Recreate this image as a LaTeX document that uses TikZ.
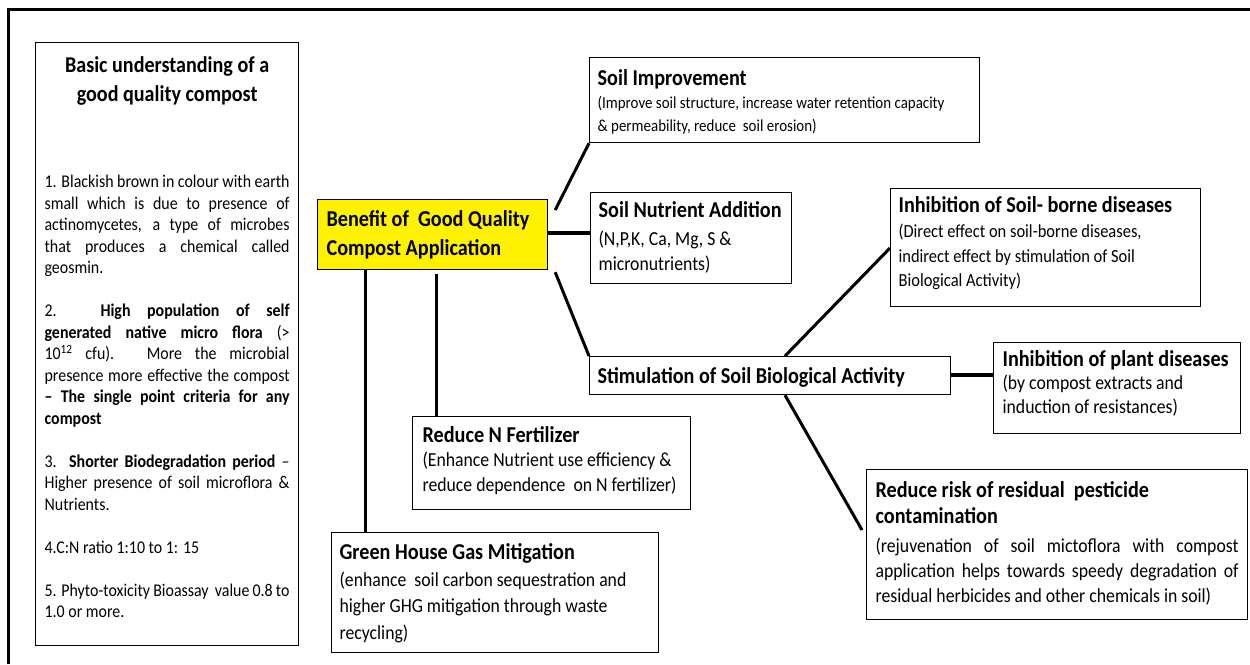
\documentclass[tikz,border=0pt]{standalone}
\usepackage{fontspec}
\setmainfont{Carlito}[FakeStretch=0.89]
\usetikzlibrary{calc}
\tikzset{
  bx/.style={draw=black, line width=1.2pt, inner sep=0pt, anchor=north west},
  conn/.style={line width=3pt, black},
  connb/.style={line width=4pt, black},
  frame/.style={line width=3pt, black},
}
\newcommand\fs[2]{\fontsize{#1pt}{#2pt}\selectfont}
\newcommand\jl[1]{\makebox[\linewidth][s]{#1}\par}
% [opts]{name}{x}{y}{w}{h}{padx}{pady}{content}
\newcommand\tbox[9][]{%
  \node[bx,#1] (#2) at (#3,#4) {\parbox[c][#6pt][t]{#5pt}{\vspace*{#8pt}\hspace*{#7pt}\parbox[t]{\dimexpr #5pt-#7pt-#7pt\relax}{\raggedright\rule{0pt}{20pt}#9}}};}
\begin{document}
\begin{tikzpicture}[x=1pt,y=-1pt]
\useasboundingbox (0,0) rectangle (1250,664);
\coordinate (fbl) at (8,664);
\coordinate (ftl) at (8,9);
\coordinate (ftr) at (1250,9);
\draw[frame] (fbl) -- (ftl) -- (ftr);

% left box
\tbox{lbox}{35}{42}{263}{603}{9}{10}{%
\centering\fs{22.6}{28.5}\bfseries Basic understanding of a\\ good quality compost\par
\raggedright\mdseries\fs{17.9}{21.5}\vspace{65pt}%
\jl{1. Blackish brown in colour with earth}
\jl{small which is due to presence of}
\jl{actinomycetes, a type of microbes}
\jl{that produces a chemical called}
geosmin.\par
\vspace{21.5pt}%
\jl{2. \textbf{High population of self}}
\jl{\textbf{generated native micro flora} (>}
\jl{10\textsuperscript{12} cfu). More the microbial}
\jl{presence more effective the compost}
\jl{\textbf{– The single point criteria for any}}
\textbf{compost}\par
\vspace{21.5pt}%
\jl{3. \textbf{Shorter Biodegradation period} –}
\jl{Higher presence of soil microflora \&}
Nutrients.\par
\vspace{21.5pt}%
4.C:N ratio 1:10 to 1: 15\par
\vspace{21.5pt}%
\jl{5. Phyto-toxicity Bioassay\ \ value 0.8 to}
1.0 or more.\par}

% central node
\tbox[fill=yellow]{yellow}{317}{199}{230}{70}{9}{7}{%
\fs{22.7}{28.5}\bfseries Benefit of\ \ Good Quality\\ Compost Application}

\tbox{soilimp}{589}{57}{390}{85}{8}{8}{%
\fs{22.7}{24}\bfseries Soil Improvement\par
\mdseries\fs{16.8}{23}(Improve soil structure, increase water retention capacity\\ \& permeability, reduce\ \ soil erosion)}

\tbox{soilnut}{590}{192}{201}{91}{8}{5}{%
\fs{22.7}{24}\bfseries Soil Nutrient Addition\par\vspace{3pt}
\mdseries\fs{19.9}{25}(N,P,K, Ca, Mg, S \&\\ micronutrients)}

\tbox{inhsoil}{890}{188}{310}{118}{8}{4}{%
\fs{22.7}{24}\bfseries Inhibition of Soil- borne diseases\par
\mdseries\fs{18.5}{24.7}(Direct effect on soil-borne diseases,\\ indirect effect by stimulation of Soil\\ Biological Activity)}

\tbox{stim}{589}{356}{361}{38}{8}{7}{%
\fs{22.7}{24}\bfseries Stimulation of Soil Biological Activity}

\tbox{plant}{993}{342}{247}{91}{9}{4}{%
\fs{22.7}{24}\bfseries Inhibition of plant diseases\par\vspace{-1pt}
\mdseries\fs{19.9}{24}(by compost extracts and\\ induction of resistances)}

\tbox{reduceN}{412}{416}{278}{93}{10}{6}{%
\fs{22.7}{24}\bfseries Reduce N Fertilizer\par\vspace{-1pt}
\mdseries\fs{19.9}{25}(Enhance Nutrient use efficiency \&\\ reduce dependence\ \ on N fertilizer)}

\tbox{ghg}{331}{532}{327}{120}{8}{7}{%
\fs{22.7}{24}\bfseries Green House Gas Mitigation\par
\mdseries\fs{19.9}{26.5}(enhance\ \ soil carbon sequestration and\\ higher GHG mitigation through waste\\ recycling)}

\tbox{risk}{866}{469}{381}{150}{9}{8}{%
\fs{22.7}{26}\bfseries Reduce risk of residual\ \ pesticide\\ contamination\par\vspace{4pt}
\mdseries\fs{19.9}{25}%
\jl{(rejuvenation of soil mictoflora with compost}
\jl{application helps towards speedy degradation of}
residual herbicides and other chemicals in soil)\par}

% connectors
\draw[conn] ($(yellow.north east)+(7,11)$) -- (soilimp.south west);
\draw[connb] ($(yellow.north east)+(0,34)$) -- ($(soilnut.north west)+(0,41)$);
\draw[conn] ($(yellow.south east)+(7,2)$) -- (stim.north west);
\draw[conn] ($(yellow.south west)+(48,0)$) coordinate (ga) -- (ga |- ghg.north);
\draw[conn] ($(yellow.south west)+(119,4)$) coordinate (ra) -- (ra |- reduceN.north);
\draw[conn] ($(stim.north west)+(196,0)$) -- ($(inhsoil.north west)+(0,60)$);
\draw[connb] ($(stim.north east)+(0,19)$) -- ($(plant.north west)+(0,33)$);
\draw[conn] ($(stim.south west)+(196,0)$) -- ($(risk.north west)+(-4,61)$);
\end{tikzpicture}
\end{document}
